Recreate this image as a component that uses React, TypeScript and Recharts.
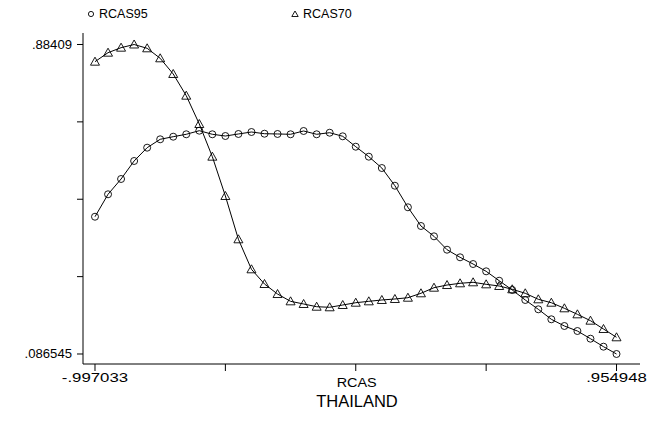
import { LineChart, Line, XAxis, YAxis } from "recharts"

// RCAS values run evenly from -.997033 to .954948, one point per step
const xTicks = [0, 10, 20, 30, 40]
const xTickLabels = ["-.997033", "", "", "", ".954948"]

const yTicks = [0.086545, 0.285931, 0.485318, 0.684704, 0.88409]
const yTickLabels = [".086545", "", "", "", ".88409"]

const rcas95 = [
  0.4403, 0.4981, 0.5375, 0.5839, 0.6182, 0.6398, 0.6465, 0.6527, 0.662, 0.6527,
  0.6483, 0.6535, 0.6586, 0.6542, 0.6535, 0.6527, 0.6612, 0.6527, 0.6568, 0.6475,
  0.6207, 0.595, 0.5658, 0.5202, 0.4646, 0.4164, 0.3898, 0.3553, 0.3357, 0.3184,
  0.2996, 0.2754, 0.2515, 0.2257, 0.2017, 0.176, 0.1587, 0.1458, 0.126, 0.1054,
  0.086545,
]

const rcas70 = [
  0.8398, 0.863, 0.8759, 0.88409, 0.8743, 0.8485, 0.8081, 0.7522, 0.6792, 0.595,
  0.4937, 0.3821, 0.3048, 0.2669, 0.2411, 0.2223, 0.2154, 0.2084, 0.2069, 0.2128,
  0.2187, 0.2223, 0.2257, 0.2283, 0.2316, 0.243, 0.2574, 0.2643, 0.2687, 0.2713,
  0.2661, 0.2618, 0.2533, 0.243, 0.2275, 0.2187, 0.2043, 0.1888, 0.1724, 0.151,
  0.1296,
]

const data = rcas95.map((v, i) => ({ i, rcas95: v, rcas70: rcas70[i] }))

const font = "'Liberation Sans', Arial, sans-serif"

function CircleDot(props: any) {
  const { cx, cy, index } = props
  return <circle key={`c${index}`} cx={cx} cy={cy} r={3.5} fill="none" stroke="#000" strokeWidth={0.9} />
}

function TriangleDot(props: any) {
  const { cx, cy, index } = props
  const d = `M${cx},${cy - 4.5} L${cx - 4.5},${cy + 3.5} L${cx + 4.5},${cy + 3.5} Z`
  return <path key={`t${index}`} d={d} fill="none" stroke="#000" strokeWidth={0.9} />
}

// tick label, optionally stretched sideways (the x labels are wider in the original)
function Tick(props: any) {
  const { x, y, payload, textAnchor, labels, ticks, dy, stretch, size } = props
  const label = labels[ticks.indexOf(payload.value)]
  if (!label) return null
  return (
    <text
      x={x}
      y={y}
      dy={dy}
      textAnchor={textAnchor}
      fontSize={size}
      fontFamily={font}
      fill="#000"
      transform={`translate(${x},0) scale(${stretch},1) translate(${-x},0)`}
    >
      {label}
    </text>
  )
}

export default function App() {
  return (
    <div style={{ position: "fixed", left: 0, top: 0, width: 647, height: 429, background: "#fff", fontFamily: font, overflow: "hidden" }}>
      <div style={{ position: "absolute", left: 86, top: 7, fontSize: 12.5, display: "flex", alignItems: "center" }}>
        <svg width={10} height={10} style={{ marginRight: 3 }}>
          <circle cx={5} cy={5} r={2.6} fill="none" stroke="#000" strokeWidth={0.9} />
        </svg>
        RCAS95
      </div>
      <div style={{ position: "absolute", left: 290, top: 7, fontSize: 12.5, display: "flex", alignItems: "center" }}>
        <svg width={10} height={10} style={{ marginRight: 3 }}>
          <path d="M5,2 L1.8,7.5 L8.2,7.5 Z" fill="none" stroke="#000" strokeWidth={0.9} />
        </svg>
        RCAS70
      </div>
      <LineChart width={647} height={429} data={data} margin={{ top: 33, right: 7, left: 23, bottom: 35 }}>
        <XAxis
          dataKey="i"
          type="number"
          domain={[-0.92, 41.8]}
          ticks={xTicks}
          tick={(p: any) => <Tick {...p} labels={xTickLabels} ticks={xTicks} dy="0.75em" stretch={1.4} size={12} />}
          interval={0}
          height={30}
          tickSize={7}
          tickMargin={2}
          stroke="#000"
          allowDataOverflow
        />
        <YAxis
          type="number"
          domain={[0.060776, 0.913724]}
          ticks={yTicks}
          tick={(p: any) => <Tick {...p} labels={yTickLabels} ticks={yTicks} dy="0.35em" stretch={1.05} size={12.5} />}
          interval={0}
          width={60}
          tickSize={6}
          tickMargin={5}
          stroke="#000"
          allowDataOverflow
        />
        <Line type="linear" dataKey="rcas95" stroke="#000" strokeWidth={1} dot={CircleDot} activeDot={false} isAnimationActive={false} />
        <Line type="linear" dataKey="rcas70" stroke="#000" strokeWidth={1} dot={TriangleDot} activeDot={false} isAnimationActive={false} />
      </LineChart>
      <div style={{ position: "absolute", left: 0, width: 714, top: 376, textAlign: "center", fontSize: 12 }}>
        <span style={{ display: "inline-block", transform: "scaleX(1.2)" }}>RCAS</span>
      </div>
      <div style={{ position: "absolute", left: 0, width: 714, top: 392, textAlign: "center", fontSize: 16.5 }}>THAILAND</div>
    </div>
  )
}
